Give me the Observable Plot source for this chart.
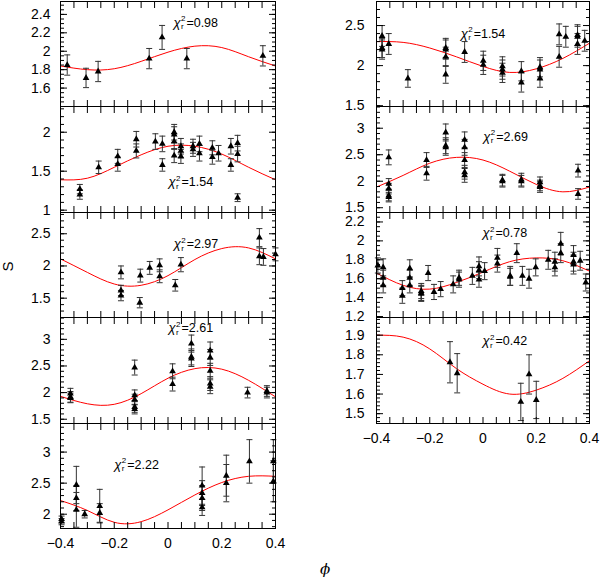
<!DOCTYPE html>
<html>
<head>
<meta charset="utf-8">
<script src="https://cdn.jsdelivr.net/npm/d3@7"></script>
<script src="https://cdn.jsdelivr.net/npm/@observablehq/plot@0.6"></script>
<style>
  body { margin: 0; background: #fff; }
  #chart { position: relative; width: 602px; height: 578px; font-family: "Liberation Sans", Arial, sans-serif; }
  #chart svg { position: absolute; }
  .lab { position: absolute; font-size: 15px; color: #000; }
</style>
</head>
<body>
<div id="chart"></div>
<script>
// [phi, S, error]
const ptsL1 = [[-0.375,1.85,0.11],[-0.305,1.71,0.105],[-0.26,1.78,0.11],[-0.07,1.92,0.11],[-0.022,2.15,0.13],[0.07,1.92,0.11],[0.353,1.95,0.11]]
const ptsL2 = [[-0.328,1.27,0.06],[-0.328,1.20,0.06],[-0.258,1.55,0.08],[-0.187,1.69,0.09],[-0.187,1.59,0.09],[-0.118,1.91,0.1],[-0.118,1.76,0.09],
  [-0.047,1.88,0.1],[-0.021,1.85,0.1],[-0.021,1.58,0.08],[0.023,2.0,0.1],[0.023,1.97,0.1],[0.023,1.88,0.1],[0.023,1.70,0.09],
  [0.048,1.82,0.1],[0.048,1.76,0.09],[0.048,1.69,0.09],[0.093,1.82,0.09],[0.093,1.78,0.09],[0.117,1.85,0.1],[0.117,1.73,0.1],
  [0.165,1.80,0.09],[0.165,1.68,0.09],[0.188,1.73,0.1],[0.234,1.82,0.1],[0.234,1.58,0.08],[0.259,1.86,0.1],[0.259,1.72,0.1],[0.259,1.16,0.05]]
const ptsL3 = [[-0.175,1.90,0.1],[-0.175,1.62,0.08],[-0.175,1.54,0.08],[-0.105,1.43,0.08],[-0.103,1.85,0.1],[-0.068,1.97,0.1],
  [-0.031,2.01,0.1],[-0.031,1.84,0.1],[0.027,1.70,0.09],[0.048,2.02,0.11],[0.34,2.44,0.14],[0.34,2.15,0.13],[0.355,2.14,0.13],[0.40,2.18,0.1]]
const ptsL4 = [[-0.363,1.98,0.1],[-0.363,1.92,0.1],[-0.363,1.90,0.09],[-0.124,2.47,0.14],[-0.124,1.95,0.1],[-0.124,1.87,0.1],[-0.124,1.73,0.1],
  [-0.124,1.69,0.09],[0.017,2.40,0.14],[0.017,2.16,0.13],[0.087,2.92,0.16],[0.087,2.67,0.15],[0.087,2.64,0.15],[0.157,2.79,0.16],
  [0.157,2.66,0.15],[0.157,2.41,0.14],[0.157,2.17,0.13],[0.157,2.11,0.13],[0.296,2.0,0.1],[0.368,2.03,0.1],[0.368,2.0,0.1]]
const ptsL5 = [[-0.396,1.92,0.05],[-0.396,1.88,0.05],[-0.341,2.47,0.3],[-0.341,2.26,0.2],[-0.341,2.07,0.28],[-0.31,2.0,0.06],
  [-0.254,2.13,0.27],[-0.254,2.02,0.15],[0.127,2.46,0.3],[0.127,2.34,0.2],[0.127,2.26,0.2],[0.127,2.11,0.13],
  [0.217,2.62,0.33],[0.217,2.50,0.3],[0.303,2.85,0.35],[0.392,2.85,0.35],[0.392,2.53,0.33]]
const ptsR1 = [[-0.379,2.37,0.13],[-0.379,2.22,0.12],[-0.379,2.20,0.12],[-0.354,2.27,0.13],[-0.282,1.84,0.11],[-0.14,2.22,0.12],
  [-0.14,2.20,0.12],[-0.14,2.11,0.12],[-0.14,1.89,0.11],[-0.069,2.17,0.13],[0.001,2.06,0.12],[0.001,2.01,0.12],[0.073,1.99,0.12],
  [0.073,1.95,0.12],[0.073,1.91,0.12],[0.144,1.93,0.12],[0.144,1.79,0.12],[0.214,1.98,0.12],[0.214,1.95,0.12],[0.214,1.84,0.11],
  [0.286,2.39,0.13],[0.286,2.11,0.13],[0.311,2.36,0.13],[0.355,2.38,0.13],[0.355,2.36,0.13],[0.355,2.27,0.13],[0.382,2.31,0.13]]
const ptsR2 = [[-0.354,2.45,0.14],[-0.354,1.95,0.1],[-0.354,1.86,0.1],[-0.354,1.73,0.1],[-0.354,1.70,0.09],[-0.212,2.40,0.14],
  [-0.212,2.15,0.13],[-0.14,2.92,0.16],[-0.14,2.67,0.15],[-0.14,2.64,0.15],[-0.069,2.78,0.15],[-0.069,2.64,0.15],[-0.069,2.40,0.14],
  [-0.069,2.17,0.13],[-0.069,2.11,0.13],[0.073,2.02,0.11],[0.073,2.0,0.11],[0.144,2.03,0.12],[0.144,2.0,0.11],[0.214,1.98,0.1],
  [0.214,1.92,0.1],[0.214,1.89,0.1],[0.357,2.2,0.12],[0.357,1.76,0.1]]
const ptsR3 = [[-0.395,1.74,0.08],[-0.375,1.72,0.09],[-0.375,1.61,0.08],[-0.375,1.53,0.08],[-0.303,1.50,0.08],[-0.303,1.42,0.08],
  [-0.275,1.71,0.09],[-0.275,1.61,0.08],[-0.275,1.53,0.08],[-0.232,1.47,0.08],[-0.232,1.45,0.08],[-0.232,1.44,0.08],[-0.206,1.66,0.08],
  [-0.184,1.46,0.08],[-0.159,1.49,0.08],[-0.112,1.54,0.09],[-0.09,1.61,0.08],[-0.09,1.59,0.08],[-0.04,1.63,0.09],[-0.015,1.73,0.1],
  [-0.015,1.69,0.09],[-0.015,1.59,0.08],[0.006,1.68,0.09],[0.054,1.82,0.1],[0.054,1.76,0.09],[0.102,1.63,0.1],[0.102,1.62,0.09],
  [0.127,1.87,0.1],[0.148,1.63,0.1],[0.173,1.60,0.1],[0.198,1.72,0.09],[0.245,1.80,0.1],[0.27,1.78,0.1],[0.27,1.72,0.09],
  [0.292,1.97,0.12],[0.292,1.87,0.1],[0.34,1.85,0.1],[0.34,1.78,0.1],[0.34,1.75,0.1],[0.365,1.79,0.1],[0.386,1.56,0.09]]
const ptsR4 = [[-0.124,1.762,0.105],[-0.097,1.706,0.1],[0.142,1.56,0.095],[0.173,1.70,0.1],[0.2,1.57,0.095]]

// fitted curves, read at these phases
const phiGrid = [-0.4,-0.3,-0.2,-0.1,0,0.1,0.2,0.3,0.4]
const fitL1 = [1.84,1.80,1.81,1.89,1.99,2.055,2.04,1.94,1.84]
const fitL2 = [1.39,1.41,1.55,1.71,1.82,1.82,1.72,1.55,1.39]
const fitL3 = [2.11,1.90,1.72,1.70,1.85,2.10,2.27,2.28,2.11]
const fitL4 = [1.93,1.79,1.78,1.98,2.27,2.45,2.44,2.23,1.92]
const fitL5 = [2.22,2.06,1.87,1.88,2.07,2.31,2.51,2.61,2.61]
const fitR1 = [2.30,2.29,2.22,2.11,1.99,1.915,1.96,2.09,2.28]
const fitR2 = [1.89,2.11,2.34,2.45,2.40,2.19,1.94,1.80,1.89]
const fitR3 = [1.66,1.53,1.49,1.56,1.67,1.78,1.82,1.79,1.68]
const fitR4 = [1.90,1.89,1.83,1.73,1.65,1.60,1.62,1.68,1.77]

const chiValues = ["0.98","1.54","2.97","2.61","2.22","1.54","2.69","0.78","0.42"]
const chiPhi = [0.02,0.002,0.021,0.002,-0.2,-0.084,0.001,-0.002,-0.002]
const chiS = [2.31,1.36,2.34,3.21,2.80,2.40,2.84,2.08,1.87]

const xTickLabels = [-0.4,-0.2,0,0.2,0.4]

const panels = [
  {col:0, row:0, pts:ptsL1, fit:fitL1, domain:[1.4,2.54], major:[1.6,1.8,2,2.2,2.4], minor:0.05},
  {col:0, row:1, pts:ptsL2, fit:fitL2, domain:[0.97,2.33], major:[1,1.5,2], minor:0.1},
  {col:0, row:2, pts:ptsL3, fit:fitL3, domain:[1.2,2.83], major:[1.5,2,2.5], minor:0.1},
  {col:0, row:3, pts:ptsL4, fit:fitL4, domain:[1.42,3.41], major:[1.5,2,2.5,3], minor:0.1},
  {col:0, row:4, pts:ptsL5, fit:fitL5, domain:[1.77,3.46], major:[2,2.5,3], minor:0.1},
  {col:1, row:0, pts:ptsR1, fit:fitR1, domain:[1.49,2.8], major:[1.5,2,2.5], minor:0.1},
  {col:1, row:1, pts:ptsR2, fit:fitR2, domain:[1.41,3.41], major:[1.5,2,2.5,3], minor:0.1},
  {col:1, row:2, pts:ptsR3, fit:fitR3, domain:[1.19,2.3], major:[1.2,1.4,1.6,1.8,2,2.2], minor:0.05},
  {col:1, row:3, pts:ptsR4, fit:fitR4, domain:[1.45,1.99], major:[1.5,1.6,1.7,1.8,1.9], minor:0.02}
]

const W = [290, 302], LEFT = [0, 300], ML = [60, 76], MR = [15, 13]
const edges = [[1,106,212,317,423,528],[1,106,212,317,423]]
const xMinor = d3.range(-0.4, 0.4001, 0.05)
const cap = {draw(ctx, size) { const w = Math.sqrt(size / Math.PI); ctx.moveTo(-w, 0); ctx.lineTo(w, 0) }}
const fmtX = d => d === 0 ? "0" : (d < 0 ? "\u2212" : "") + Math.abs(d)

const holder = document.getElementById('chart')

panels.forEach((p, i) => {
  const e = edges[p.col], t = e[p.row], b = e[p.row + 1]
  const last = p.row === e.length - 2
  const mt = 4, mb = 4
  const yMinor = d3.range(Math.ceil(p.domain[0] / p.minor) * p.minor, p.domain[1], p.minor)
  const fit = phiGrid.map((x, j) => ({x, y: p.fit[j]}))
  const lab = [{x: chiPhi[i], y: chiS[i]}]

  const marks = [
    Plot.line(fit, {x: "x", y: "y", stroke: "#f00", strokeWidth: 1, curve: "natural"}),
    Plot.ruleX(p.pts, {x: d => d[0], y1: d => d[1] - d[2], y2: d => d[1] + d[2], stroke: "#333", strokeWidth: 1}),
    Plot.dot(p.pts, {x: d => d[0], y: d => d[1] - d[2], symbol: cap, r: 3, fill: "none", stroke: "#333", strokeWidth: 1}),
    Plot.dot(p.pts, {x: d => d[0], y: d => d[1] + d[2], symbol: cap, r: 3, fill: "none", stroke: "#333", strokeWidth: 1}),
    Plot.dot(p.pts, {x: d => d[0], y: d => d[1], symbol: "triangle", r: 2.5, fill: "#000", stroke: "none"}),
    Plot.text(lab, {x: "x", y: "y", text: () => "\u03c7", textAnchor: "start", fontStyle: "italic", fontSize: 13}),
    Plot.text(lab, {x: "x", y: "y", text: () => "2", textAnchor: "start", fontSize: 8, dx: 7.5, dy: -4}),
    Plot.text(lab, {x: "x", y: "y", text: () => "r", textAnchor: "start", fontSize: 8, dx: 7.5, dy: 4}),
    Plot.text(lab, {x: "x", y: "y", text: () => "=" + chiValues[i], textAnchor: "start", fontSize: 12.5, dx: 13}),
    Plot.axisX({anchor: "bottom", ticks: xMinor, tickSize: -6, tickFormat: () => "", label: null}),
    Plot.axisX({anchor: "top", ticks: xMinor, tickSize: -6, tickFormat: () => "", label: null}),
    Plot.axisY({anchor: "left", ticks: yMinor, tickSize: -4, tickFormat: () => "", label: null}),
    Plot.axisY({anchor: "right", ticks: yMinor, tickSize: -4, tickFormat: () => "", label: null}),
    Plot.axisY({anchor: "left", ticks: p.major, tickSize: -7, tickFormat: () => "", label: null}),
    Plot.axisY({anchor: "right", ticks: p.major, tickSize: -7, tickFormat: () => "", label: null}),
    Plot.axisY({anchor: "left", ticks: p.major, tickSize: 0, tickPadding: p.col ? 12 : 10, tickFormat: d => String(d), label: null}),
    Plot.frame({stroke: "#000", strokeWidth: 1})
  ]
  if (last) marks.push(Plot.axisX({anchor: "bottom", ticks: xTickLabels, tickSize: 0, tickPadding: 10, tickFormat: fmtX, label: null}))

  const svg = Plot.plot({
    width: W[p.col],
    height: (b - t) + mt + mb,
    marginLeft: ML[p.col],
    marginRight: MR[p.col],
    marginTop: mt,
    marginBottom: mb,
    style: {background: "none", overflow: "visible", fontSize: "14px", fontFamily: "Liberation Sans, Arial, sans-serif"},
    x: {domain: [-0.4, 0.4]},
    y: {domain: p.domain},
    marks
  })
  svg.style.left = LEFT[p.col] + "px"
  svg.style.top = (t - mt) + "px"
  holder.appendChild(svg)
})

const s = document.createElement('div')
s.className = 'lab'
s.textContent = 'S'
s.style.left = '2px'
s.style.top = '258px'
s.style.transform = 'rotate(-90deg)'
holder.appendChild(s)

const phi = document.createElement('div')
phi.className = 'lab'
phi.textContent = '\u03d5'
phi.style.left = '320px'
phi.style.top = '560px'
phi.style.fontStyle = 'italic'
phi.style.fontFamily = '"DejaVu Serif", serif'
phi.style.fontSize = '15px'
holder.appendChild(phi)
</script>
</body>
</html>
